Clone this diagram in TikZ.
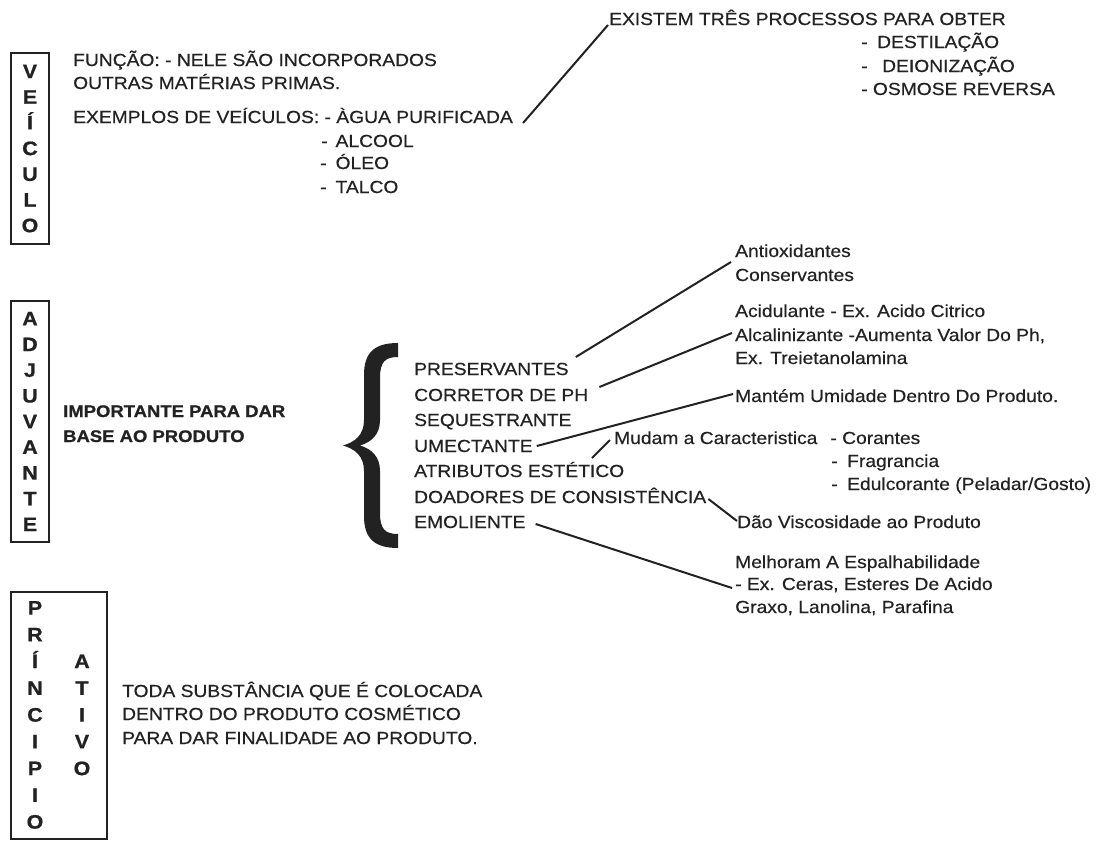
\documentclass[tikz,border=0pt]{standalone}
\usepackage{fontspec}
\setmainfont{Liberation Sans}[FakeStretch=1.1, UprightFeatures={FakeBold=0.4}, BoldFeatures={FakeBold=0.8}]
\definecolor{ink}{HTML}{222222}
\newcommand\txtfont{\fontsize{17.5}{21}\selectfont}
\newcommand\btxtfont{\fontsize{16.8}{21}\selectfont\bfseries}
\newcommand\vlfont{\fontsize{19.5}{25.7}\selectfont\bfseries}
\newcommand\vpfont{\fontsize{19.5}{26.75}\selectfont\bfseries}
\tikzset{
  txt/.style={anchor=base west, inner sep=0pt, font=\txtfont, text=ink},
  btxt/.style={txt, font=\btxtfont},
  conn/.style={draw=ink, line width=2pt},
  vbox/.style={draw=ink, line width=2pt, inner sep=0pt, align=center, font=\vlfont, text=ink},
  vstack/.style={inner sep=0pt, align=center, font=\vpfont, text=ink},
}
\begin{document}
\begin{tikzpicture}[x=1pt,y=-1pt]
\useasboundingbox[fill=white] (0,0) rectangle (1096,841);

% ---------- VEICULO ----------
\node[vbox, minimum width=38pt, minimum height=191pt] (veiculo) at (30,148.5) {V\\E\\Í\\C\\U\\L\\O};
\node[txt] (funcao) at (73,66) {FUNÇÃO: - NELE SÃO INCORPORADOS};
\node[txt] (outras) at (73,89) {OUTRAS MATÉRIAS PRIMAS.};
\node[txt] (agua) at (73,123) {EXEMPLOS DE VEÍCULOS: - ÀGUA PURIFICADA};
\node[txt] (alcool) at (321,147) {-\hspace{8pt}ALCOOL};
\node[txt] (oleo) at (320,169) {-\hspace{9pt}ÓLEO};
\node[txt] (talco) at (320,193) {-\hspace{9pt}TALCO};

\node[txt] (exist) at (609,25) {EXISTEM TRÊS PROCESSOS PARA OBTER};
\node[txt] (dest) at (861,48) {-\hspace{9.6pt}DESTILAÇÃO};
\node[txt] (deion) at (861,72) {-\hspace{14.6pt}DEIONIZAÇÃO};
\node[txt] (osmose) at (861,95) {- OSMOSE REVERSA};

\draw[conn] ([shift={(10,0)}]agua.base east) -- ([shift={(-1,0)}]exist.base west);

% ---------- ADJUVANTE ----------
\node[vbox, minimum width=38pt, minimum height=241pt] (adjuvante) at (30,421.5) {A\\D\\J\\U\\V\\A\\N\\T\\E};
\node[btxt] (imp) at (63,417) {IMPORTANTE PARA DAR};
\node[btxt] (base) at (63,442) {BASE AO PRODUTO};

\fill[ink] (398,343) .. controls (375,343) and (364,352) .. (364,375)
  -- (364,420) .. controls (364,435) and (355,442) .. (343,445.5)
  .. controls (355,449) and (364,456) .. (364,471)
  -- (364,516) .. controls (364,539) and (375,548) .. (398,548)
  -- (398,534) .. controls (385,534) and (380,529) .. (380,513)
  -- (380,471) .. controls (380,457) and (372,449) .. (360,445.5)
  .. controls (372,442) and (380,434) .. (380,420)
  -- (380,378) .. controls (380,362) and (385,357) .. (398,357) -- cycle;

\node[txt] (pres) at (414,375) {PRESERVANTES};
\node[txt] (corr) at (414,401) {CORRETOR DE PH};
\node[txt] (seq) at (414,426) {SEQUESTRANTE};
\node[txt] (umec) at (414,452) {UMECTANTE};
\node[txt] (atrib) at (414,477) {ATRIBUTOS ESTÉTICO};
\node[txt] (doad) at (414,503) {DOADORES DE CONSISTÊNCIA};
\node[txt] (emol) at (414,528) {EMOLIENTE};

\node[txt] (anti) at (735,257) {Antioxidantes};
\node[txt] (cons) at (735,281) {Conservantes};
\node[txt] (acid) at (735,317) {Acidulante - Ex. Acido Citrico};
\node[txt] (alca) at (735,341) {Alcalinizante -Aumenta Valor Do Ph,};
\node[txt] (treie) at (735,364) {Ex. Treietanolamina};
\node[txt] (mant) at (735,402) {Mantém Umidade Dentro Do Produto.};
\node[txt] (mudam) at (614,444) {Mudam a Caracteristica\hspace{13pt}- Corantes};
\node[txt] (frag) at (831,467) {-\hspace{9.6pt}Fragrancia};
\node[txt] (edul) at (831,490) {-\hspace{9.6pt}Edulcorante (Peladar/Gosto)};
\node[txt] (dao) at (737,528) {Dão Viscosidade ao Produto};
\node[txt] (melh) at (735,568) {Melhoram A Espalhabilidade};
\node[txt] (exc) at (735,590) {- Ex. Ceras, Esteres De Acido};
\node[txt] (graxo) at (735,613) {Graxo, Lanolina, Parafina};

\draw[conn] ([shift={(7,-18)}]pres.base east) -- ([shift={(-4,5)}]anti.base west);
\draw[conn] ([shift={(11,-14)}]corr.base east) -- ([shift={(-3,-8)}]alca.base west);
\draw[conn] ([shift={(4,-6)}]umec.base east) -- ([shift={(-2,-8)}]mant.base west);
\draw[conn] ([shift={(178,-19)}]atrib.base west) -- ([shift={(-4,-4)}]mudam.base west);
\draw[conn] ([shift={(2,-4)}]doad.base east) -- ([shift={(0,-7)}]dao.base west);
\draw[conn] ([shift={(10,-4)}]emol.base east) -- ([shift={(-3,-2)}]exc.base west);

% ---------- PRINCIPIO ATIVO ----------
\node[draw=ink, line width=2pt, minimum width=96pt, minimum height=247pt, inner sep=0pt] (princ) at (59,715.5) {};
\node[vstack] (princl) at (35,715) {P\\R\\Í\\N\\C\\I\\P\\I\\O};
\node[vstack] (ativo) at (82,715) {A\\T\\I\\V\\O};
\node[txt] (toda) at (122,697) {TODA SUBSTÂNCIA QUE É COLOCADA};
\node[txt] (dentro) at (122,720) {DENTRO DO PRODUTO COSMÉTICO};
\node[txt] (para) at (122,744) {PARA DAR FINALIDADE AO PRODUTO.};
\end{tikzpicture}
\end{document}
